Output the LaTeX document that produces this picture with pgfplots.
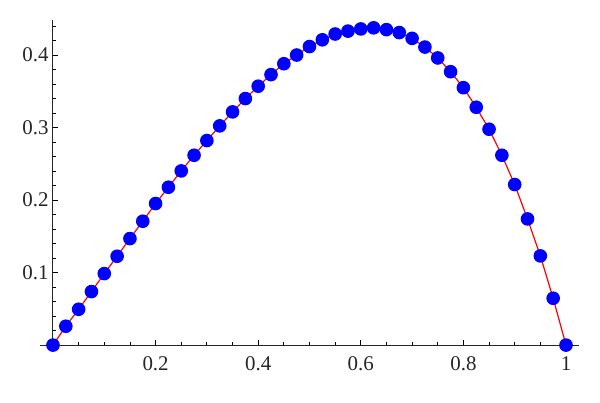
\documentclass[border=0pt]{standalone}
\usepackage{fontspec}
\setmainfont{Liberation Serif}
\usepackage{pgfplots}
\pgfplotsset{compat=1.18}
\begin{document}
\begin{tikzpicture}[x=1bp,y=1bp]
\begin{axis}[
  scale only axis,
  width=539bp, height=332bp,
  xmin=-0.025, xmax=1.026,
  ymin=-0.01, ymax=0.448,
  axis lines=middle,
  axis line style={-, line width=1bp, black!85},
  xtick={0.2,0.4,0.6,0.8,1},
  xticklabels={0.2,0.4,0.6,0.8,1},
  ytick={0.1,0.2,0.3,0.4},
  yticklabels={0.1,0.2,0.3,0.4},
  minor xtick={0.05,0.1,0.15,0.25,0.3,0.35,0.45,0.5,0.55,0.65,0.7,0.75,0.85,0.9,0.95},
  minor ytick={0.02,0.04,0.06,0.08,0.12,0.14,0.16,0.18,0.22,0.24,0.26,0.28,0.32,0.34,0.36,0.38,0.42,0.44},
  tick align=inside,
  major tick length=5bp,
  minor tick length=3bp,
  tick style={black, line width=0.8bp},
  ticklabel style={font=\fontsize{21}{25}\selectfont, text=black!85},
  /pgf/number format/assume math mode=true,
  xticklabel style={yshift=-8bp},
  yticklabel style={xshift=-1bp},
  clip=false,
]
\addplot[red, line width=1.2bp, mark=*, mark size=6.2bp,
  mark options={draw=blue, fill=blue}] coordinates {
(0,0) (0.025,0.0260) (0.05,0.0494) (0.075,0.0738) (0.1,0.0986)
(0.125,0.1225) (0.15,0.1469) (0.175,0.1708) (0.2,0.1952) (0.225,0.2177)
(0.25,0.2402) (0.275,0.2618) (0.3,0.2821) (0.325,0.3023) (0.35,0.3216)
(0.375,0.3400) (0.4,0.3570) (0.425,0.3730) (0.45,0.3880) (0.475,0.4000)
(0.5,0.4117) (0.525,0.4210) (0.55,0.4290) (0.575,0.4330) (0.6,0.4360)
(0.625,0.4375) (0.65,0.4350) (0.675,0.4310) (0.7,0.4230) (0.725,0.4110)
(0.75,0.3960) (0.775,0.3770) (0.8,0.3550) (0.825,0.3280) (0.85,0.2977)
(0.875,0.2618) (0.9,0.2214) (0.925,0.1740) (0.95,0.1230) (0.975,0.0646)
(1,0)
};
\path (axis cs:-0.1033,-0.0786) rectangle (axis cs:1.0663,0.4759);
\end{axis}
\end{tikzpicture}
\end{document}
